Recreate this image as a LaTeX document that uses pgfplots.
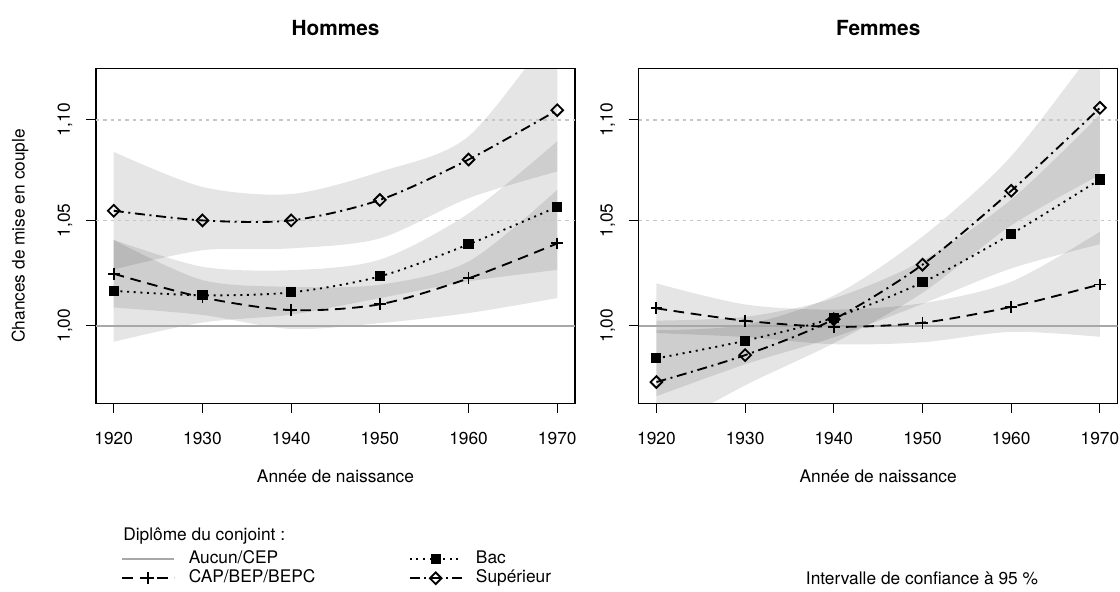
\documentclass[border=0pt]{standalone}
\usepackage{fontspec}
\setmainfont{TeX Gyre Heros}
\usepackage{pgfplots}
\usepackage{pgfplotstable}
\pgfplotsset{compat=1.18}
\usepgfplotslibrary{fillbetween}

\definecolor{refgrey}{gray}{0.66}
\definecolor{gridgrey}{gray}{0.78}

% year, points, then upper / lower bounds of the 95% bands
\pgfplotstableread{
year cap    bac    sup    capU   capL   bacU   bacL   supU   supL
1920 1.0244 1.0163 1.0547 1.0405 1.0085 1.0406 0.9926 1.0839 1.0264
1930 1.0132 1.0142 1.0500 1.0214 1.0050 1.0277 1.0015 1.0664 1.0356
1940 1.0073 1.0156 1.0500 1.0182 0.9985 1.0261 1.0052 1.0629 1.0365
1950 1.0100 1.0231 1.0600 1.0192 1.0012 1.0311 1.0129 1.0739 1.0413
1960 1.0222 1.0384 1.0800 1.0302 1.0059 1.0534 1.0208 1.0917 1.0609
1970 1.0389 1.0566 1.1050 1.0650 1.0129 1.0892 1.0262 1.1500 1.0741
}\hommes

\pgfplotstableread{
year cap    bac    sup    capU   capL   bacU   bacL   supU   supL
1920 1.0081 0.9850 0.9743 1.0198 0.9966 1.0024 0.9679 0.9979 0.9511
1930 1.0023 0.9931 0.9865 1.0099 0.9948 1.0041 0.9823 1.0004 0.9728
1940 0.9995 1.0037 1.0030 1.0075 0.9915 1.0128 0.9947 1.0141 0.9920
1950 1.0014 1.0203 1.0287 1.0105 0.9924 1.0306 1.0102 1.0422 1.0154
1960 1.0088 1.0434 1.0645 1.0206 0.9972 1.0602 1.0269 1.0817 1.0476
1970 1.0193 1.0701 1.1062 1.0445 0.9949 1.1027 1.0385 1.1410 1.0724
}\femmes

\pgfplotsset{
  every axis/.append style={
    scale only axis, width=359.25pt, height=251.25pt,
    xmin=1918, xmax=1972, ymin=0.9647, ymax=1.1266,
    xtick={1920,1930,1940,1950,1960,1970},
    xticklabels={1920,1930,1940,1950,1960,1970},
    ytick={1,1.05,1.1},
    yticklabels={{1,00},{1,05},{1,10}},
    tick align=outside, tick pos=left,
    major tick length=7.5pt,
    tick style={black, line width=0.8pt},
    axis line style={line width=1pt},
    xticklabel style={anchor=base, yshift=-23.25pt},
    yticklabel style={rotate=90, anchor=center, yshift=15.75pt},
    title style={font=\fontsize{15.6}{18}\selectfont\bfseries, at={(0.5,1)}, anchor=base, yshift=18.75pt},
    xlabel={Année de naissance},
  },
  every axis x label/.style={at={(0.5,0)}, anchor=base, yshift=-59.5pt},
  every axis y label/.style={at={(0,0.5)}, rotate=90, anchor=center, yshift=57pt},
  myband/.style={fill=black, fill opacity=0.1, draw=none, forget plot},
  myedge/.style={draw=none, smooth, forget plot},
  mygrid/.style={gridgrey, line width=0.9pt, dash pattern=on 2.5pt off 3pt, forget plot},
  myref/.style={refgrey, line width=1.7pt},
  mycap/.style={black, line width=1.4pt, dash pattern=on 8pt off 5pt, mark=+, mark size=4.4pt, mark options={solid}},
  mybac/.style={black, line width=1.4pt, dash pattern=on 1.5pt off 3.5pt, mark=square*, mark size=3.1pt, mark options={solid}},
  mysup/.style={black, line width=1.4pt, dash pattern=on 7.5pt off 3.5pt on 1.5pt off 3.5pt, mark=square, mark size=3.1pt, mark options={solid, fill=white, rotate=45}},
}

\begin{document}
\fontsize{13}{15.6}\selectfont
\begin{tikzpicture}

\begin{axis}[ymode=log, at={(72pt,-302.5pt)}, anchor=south west,
  title={Hommes}, ylabel={Chances de mise en couple},
  legend columns=2, legend cell align=left,
  legend image code/.code={\draw[mark repeat=2,mark phase=2,#1] plot coordinates {(0pt,0pt) (19.5pt,0pt) (39pt,0pt)};},
  legend style={draw=none, fill=none, inner sep=0pt, at={(0.052,-0.4397)}, anchor=north west,
    row sep=1.75pt, font=\fontsize{13}{15.6}\selectfont,
    nodes={inner xsep=6pt, inner ysep=0pt, text height=9.5pt, text depth=3pt},
    /tikz/every odd column/.append style={column sep=4pt}},
]
\addplot[mygrid] coordinates {(1918,1.05) (1972,1.05)};
\addplot[mygrid] coordinates {(1918,1.1) (1972,1.1)};

\addplot[myedge, name path=hsu] table[x=year, y=supU] {\hommes};
\addplot[myedge, name path=hsl] table[x=year, y=supL] {\hommes};
\addplot[myband] fill between[of=hsu and hsl];
\addplot[myedge, name path=hbu] table[x=year, y=bacU] {\hommes};
\addplot[myedge, name path=hbl] table[x=year, y=bacL] {\hommes};
\addplot[myband] fill between[of=hbu and hbl];
\addplot[myedge, name path=hcu] table[x=year, y=capU] {\hommes};
\addplot[myedge, name path=hcl] table[x=year, y=capL] {\hommes};
\addplot[myband] fill between[of=hcu and hcl];

\addplot[myref, forget plot] coordinates {(1918,1) (1972,1)};
\addplot[mycap, smooth, forget plot] table[x=year, y=cap] {\hommes};
\addplot[mybac, smooth, forget plot] table[x=year, y=bac] {\hommes};
\addplot[mysup, smooth, forget plot] table[x=year, y=sup] {\hommes};

\addlegendimage{myref}
\addlegendentry{\makebox[159pt][l]{Aucun/CEP}}
\addlegendimage{mybac}
\addlegendentry{Bac}
\addlegendimage{mycap}
\addlegendentry{\makebox[159pt][l]{CAP/BEP/BEPC}}
\addlegendimage{mysup}
\addlegendentry{Supérieur}
\end{axis}

\begin{axis}[ymode=log, at={(479pt,-302.5pt)}, anchor=south west, title={Femmes}]
\addplot[mygrid] coordinates {(1918,1.05) (1972,1.05)};
\addplot[mygrid] coordinates {(1918,1.1) (1972,1.1)};

\addplot[myedge, name path=fsu] table[x=year, y=supU] {\femmes};
\addplot[myedge, name path=fsl] table[x=year, y=supL] {\femmes};
\addplot[myband] fill between[of=fsu and fsl];
\addplot[myedge, name path=fbu] table[x=year, y=bacU] {\femmes};
\addplot[myedge, name path=fbl] table[x=year, y=bacL] {\femmes};
\addplot[myband] fill between[of=fbu and fbl];
\addplot[myedge, name path=fcu] table[x=year, y=capU] {\femmes};
\addplot[myedge, name path=fcl] table[x=year, y=capL] {\femmes};
\addplot[myband] fill between[of=fcu and fcl];

\addplot[myref, forget plot] coordinates {(1918,1) (1972,1)};
\addplot[mycap, smooth, forget plot] table[x=year, y=cap] {\femmes};
\addplot[mybac, smooth, forget plot] table[x=year, y=bac] {\femmes};
\addplot[mysup, smooth, forget plot] table[x=year, y=sup] {\femmes};
\end{axis}

\node[anchor=west, inner sep=0pt] at (92.25pt,-402pt) {Diplôme du conjoint :};
\node[inner sep=0pt] at (691.5pt,-433.5pt) {Intervalle de confiance à 95 \%};
\pgfresetboundingbox
\path[use as bounding box] (0pt,0pt) rectangle (840pt,-444pt);
\end{tikzpicture}
\end{document}
